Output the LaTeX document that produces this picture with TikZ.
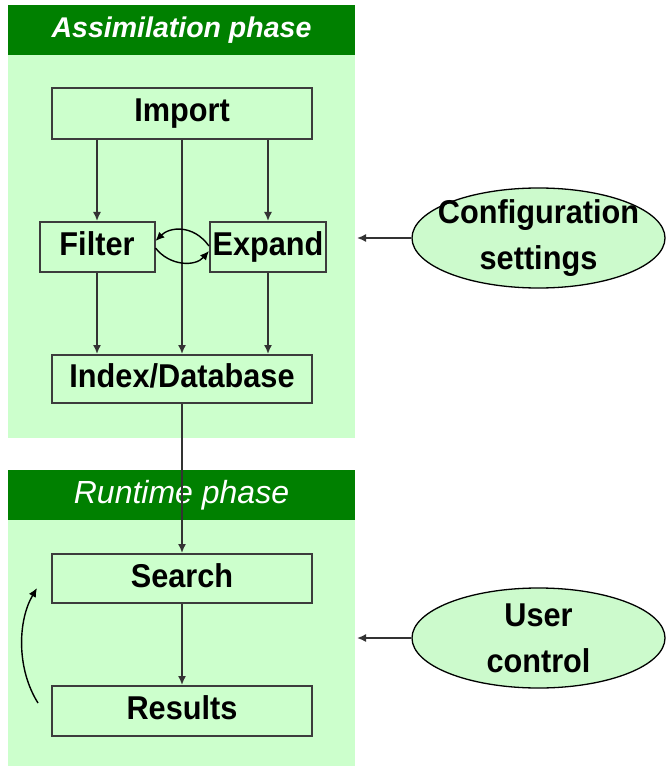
\documentclass[tikz,border=0pt]{standalone}
\usepackage{fontspec}
\setmainfont{Liberation Sans}
\newfontfamily\boxfont[FakeStretch=0.93]{Liberation Sans}
\usetikzlibrary{shapes.geometric,arrows.meta}
\definecolor{hdr}{RGB}{0,128,0}
\definecolor{pale}{RGB}{204,255,204}
\definecolor{ellfill}{RGB}{204,250,204}
\definecolor{edge}{RGB}{60,60,60}
\begin{document}
\begin{tikzpicture}[x=1pt,y=-1pt,
  panel/.style={fill=pale,draw=none},
  header/.style={fill=hdr,draw=none,text=white,minimum width=347pt,minimum height=50pt,inner sep=0pt},
  box/.style={draw=edge,line width=2pt,fill=pale,inner sep=0pt,text height=24pt,text depth=7pt,font=\boxfont\fontsize{33}{46}\selectfont\bfseries},
  ell/.style={ellipse,draw=black,line width=1.3pt,fill=ellfill,inner xsep=-40pt,inner ysep=-10pt,minimum width=253pt,minimum height=100pt,align=center,font=\boxfont\fontsize{33}{46}\selectfont\bfseries},
  arr/.style={draw=black!80,line width=1.6pt,-{Latex[length=9pt,width=8pt]}},
  curvearr/.style={draw=black,line width=1.4pt,-{Latex[length=9pt,width=8pt]}}
]
\useasboundingbox (0,0) rectangle (668,767);
% panels
\fill[pale] (8,55) rectangle (355,438);
\node[header,font=\fontsize{28.5}{34}\selectfont\bfseries\itshape] (h1) at (181.5,30) {Assimilation phase};
\fill[pale] (8,520) rectangle (355,766);
\node[header,font=\fontsize{32}{36}\selectfont\itshape] (h2) at (181.5,495) {Runtime phase};
% boxes
\node[box,minimum width=260pt,minimum height=51pt] (imp) at (182,113.5) {Import};
\node[box,minimum width=115pt,minimum height=50pt] (fi) at (97,247) {Filter};
\node[box,minimum width=116pt,minimum height=50pt] (ex) at (268,247) {Expand};
\node[box,minimum width=260pt,minimum height=48pt] (idx) at (182,379) {Index/Database};
\node[box,minimum width=260pt,minimum height=49pt] (se) at (182,578.5) {Search};
\node[box,minimum width=260pt,minimum height=50pt] (re) at (182,711) {Results};
% ellipses
\node[ell] (cfg) at (538.5,238) {Configuration\\settings};
\node[ell] (usr) at (538.5,638) {User\\control};
\coordinate (cfgend) at (357,238);
\coordinate (usrend) at (357,638);
% connectors
\draw[arr] (fi.north |- imp.south) -- (fi.north);
\draw[arr] (ex.north |- imp.south) -- (ex.north);
\draw[arr] (imp.south) -- (idx.north);
\draw[arr] (fi.south) -- (fi.south |- idx.north);
\draw[arr] (ex.south) -- (ex.south |- idx.north);
\draw[arr] (idx.south) -- (se.north);
\draw[arr] (se.south) -- (re.north);
\draw[arr] (cfg.west) -- (cfgend);
\draw[arr] (usr.west) -- (usrend);
% filter <-> expand
\draw[curvearr] ([yshift=1pt]ex.west) .. controls +(-16,-22) and +(14,-14) .. ([yshift=6pt]fi.east);
\draw[curvearr] ([yshift=-1pt]fi.east) .. controls +(14,18) and +(-14,16) .. ([yshift=-4pt]ex.west);
% loop arrow
\coordinate (lb) at (38,703);
\coordinate (lt) at (37,588);
\draw[curvearr] (lb) .. controls (16,668) and (18,620) .. (lt);
\end{tikzpicture}
\end{document}
